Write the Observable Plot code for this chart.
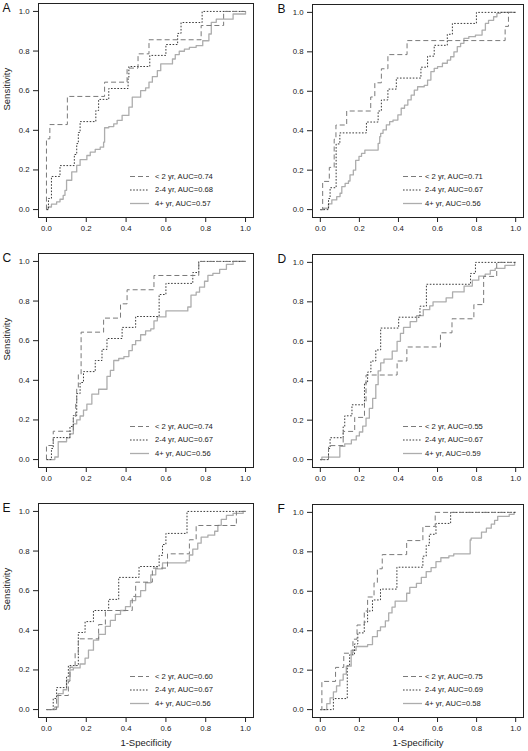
<!DOCTYPE html>
<html><head><meta charset="utf-8">
<script src="https://cdn.jsdelivr.net/npm/d3@7"></script>
<script src="https://cdn.jsdelivr.net/npm/@observablehq/plot@0.6"></script>
<style>
body{margin:0;background:#fff;}
#root{position:relative;width:528px;height:751px;font-family:"Liberation Sans",Arial,sans-serif;overflow:hidden;}
.panel{position:absolute;}
.panel svg{display:block;}
.overlay{position:absolute;left:0;top:0;pointer-events:none;}
</style></head><body><div id="root"></div>
<script>
// ---- labels ----
const panelLetters = ["A", "B", "C", "D", "E", "F"];
const groupLabels = ["< 2 yr", "2-4 yr", "4+ yr"];
const axisTicks = [0, 0.2, 0.4, 0.6, 0.8, 1.0];
const xTitle = "1-Specificity";
const yTitle = "Sensitivity";
const aucLt2 = [0.74, 0.71, 0.74, 0.55, 0.60, 0.75];
const auc2to4 = [0.68, 0.67, 0.67, 0.67, 0.67, 0.69];
const auc4plus = [0.57, 0.56, 0.56, 0.59, 0.56, 0.58];

// ---- ROC curves (1-specificity, sensitivity) ----
// Panel A
const A_lt2_fpr = [0, 0, 0.017, 0.105, 0.292, 0.405, 0.46, 0.515, 0.777, 0.89, 1];
const A_lt2_tpr = [0, 0.357, 0.429, 0.571, 0.643, 0.714, 0.786, 0.857, 0.929, 1, 1];
const A_mid_fpr = [0, 0.01, 0.025, 0.068, 0.14, 0.152, 0.16, 0.169, 0.248, 0.262, 0.313, 0.41, 0.414, 0.519, 0.6, 0.659, 0.676, 0.782, 1];
const A_mid_tpr = [0, 0.056, 0.167, 0.222, 0.278, 0.333, 0.389, 0.444, 0.5, 0.556, 0.611, 0.667, 0.722, 0.778, 0.833, 0.889, 0.944, 1, 1];
const A_old_fpr = [0, 0.008, 0.025, 0.051, 0.068, 0.084, 0.093, 0.101, 0.127, 0.152, 0.169, 0.203, 0.22, 0.245, 0.27, 0.287, 0.292, 0.313, 0.338, 0.355, 0.38, 0.414, 0.431, 0.473, 0.498, 0.515, 0.532, 0.557, 0.574, 0.633, 0.647, 0.667, 0.693, 0.718, 0.752, 0.785, 0.816, 0.828, 0.853, 0.9375, 1];
const A_old_tpr = [0, 0.013, 0.027, 0.039, 0.052, 0.072, 0.097, 0.148, 0.19, 0.223, 0.252, 0.273, 0.29, 0.304, 0.315, 0.34, 0.413, 0.419, 0.433, 0.45, 0.475, 0.517, 0.567, 0.6, 0.614, 0.643, 0.671, 0.701, 0.735, 0.76, 0.782, 0.799, 0.81, 0.819, 0.827, 0.852, 0.886, 0.945, 0.961, 0.987, 1];
// Panel B
const B_lt2_fpr = [0, 0.012, 0.046, 0.071, 0.08, 0.135, 0.258, 0.279, 0.3125, 0.346, 0.444, 0.946, 0.963, 1];
const B_lt2_tpr = [0, 0.143, 0.214, 0.357, 0.429, 0.5, 0.571, 0.643, 0.714, 0.786, 0.857, 0.929, 1, 1];
const B_mid_fpr = [0, 0.042, 0.05, 0.081, 0.1, 0.236, 0.296, 0.3125, 0.346, 0.389, 0.515, 0.549, 0.583, 0.65, 0.676, 0.799, 1];
const B_mid_tpr = [0, 0.056, 0.111, 0.333, 0.389, 0.444, 0.5, 0.556, 0.611, 0.667, 0.722, 0.778, 0.833, 0.889, 0.944, 1, 1];
const B_old_fpr = [0, 0.017, 0.042, 0.059, 0.084, 0.101, 0.11, 0.127, 0.144, 0.152, 0.169, 0.181, 0.198, 0.211, 0.228, 0.296, 0.304, 0.309, 0.321, 0.338, 0.355, 0.372, 0.397, 0.414, 0.431, 0.448, 0.465, 0.481, 0.498, 0.532, 0.549, 0.566, 0.583, 0.6, 0.625, 0.65, 0.667, 0.684, 0.701, 0.718, 0.735, 0.76, 0.794, 0.828, 0.845, 0.861, 0.887, 0.904, 0.921, 1];
const B_old_tpr = [0, 0.007, 0.029, 0.049, 0.066, 0.083, 0.117, 0.133, 0.145, 0.176, 0.2, 0.25, 0.27, 0.285, 0.302, 0.336, 0.37, 0.387, 0.404, 0.43, 0.446, 0.454, 0.48, 0.514, 0.53, 0.556, 0.58, 0.606, 0.623, 0.63, 0.657, 0.7, 0.716, 0.725, 0.742, 0.758, 0.775, 0.8, 0.826, 0.843, 0.868, 0.877, 0.885, 0.91, 0.944, 0.96, 0.978, 0.995, 1, 1];
// Panel C
const C_lt2_fpr = [0, 0, 0.034, 0.135, 0.147, 0.152, 0.16, 0.174, 0.287, 0.372, 0.405, 0.54, 0.765, 1];
const C_lt2_tpr = [0, 0.071, 0.143, 0.214, 0.286, 0.357, 0.429, 0.643, 0.714, 0.786, 0.857, 0.929, 1, 1];
const C_mid_fpr = [0, 0.025, 0.034, 0.118, 0.135, 0.152, 0.169, 0.186, 0.245, 0.279, 0.304, 0.38, 0.448, 0.566, 0.6, 0.735, 0.765, 1];
const C_mid_tpr = [0, 0.056, 0.111, 0.167, 0.222, 0.333, 0.389, 0.444, 0.5, 0.556, 0.611, 0.667, 0.722, 0.833, 0.889, 0.944, 1, 1];
const C_old_fpr = [0, 0.042, 0.059, 0.101, 0.118, 0.135, 0.152, 0.169, 0.186, 0.203, 0.228, 0.262, 0.304, 0.321, 0.338, 0.363, 0.389, 0.414, 0.431, 0.448, 0.473, 0.498, 0.524, 0.54, 0.557, 0.6, 0.71, 0.726, 0.752, 0.769, 0.794, 0.811, 0.836, 0.87, 0.904, 0.9375, 1];
const C_old_tpr = [0, 0.013, 0.09, 0.11, 0.13, 0.18, 0.2, 0.22, 0.25, 0.28, 0.33, 0.355, 0.42, 0.45, 0.5, 0.51, 0.52, 0.55, 0.58, 0.6, 0.63, 0.65, 0.66, 0.7, 0.72, 0.75, 0.77, 0.83, 0.845, 0.87, 0.9, 0.93, 0.94, 0.96, 0.985, 1, 1];
// Panel D
const D_lt2_fpr = [0, 0.042, 0.117, 0.176, 0.226, 0.234, 0.393, 0.443, 0.615, 0.674, 0.786, 0.836, 0.903, 1];
const D_lt2_tpr = [0, 0.071, 0.143, 0.214, 0.286, 0.429, 0.5, 0.571, 0.643, 0.714, 0.786, 0.929, 1, 1];
const D_mid_fpr = [0, 0.042, 0.05, 0.117, 0.125, 0.162, 0.226, 0.242, 0.259, 0.284, 0.309, 0.401, 0.51, 0.543, 0.769, 0.794, 1];
const D_mid_tpr = [0, 0.056, 0.111, 0.167, 0.222, 0.278, 0.389, 0.444, 0.5, 0.556, 0.667, 0.722, 0.778, 0.889, 0.944, 1, 1];
const D_old_fpr = [0, 0.008, 0.1, 0.125, 0.159, 0.184, 0.2, 0.217, 0.234, 0.251, 0.268, 0.284, 0.296, 0.309, 0.326, 0.368, 0.393, 0.41, 0.426, 0.46, 0.493, 0.527, 0.56, 0.577, 0.644, 0.677, 0.736, 0.778, 0.811, 0.844, 0.87, 0.895, 0.945, 0.995, 1];
const D_old_tpr = [0, 0.013, 0.067, 0.08, 0.1, 0.12, 0.14, 0.17, 0.21, 0.26, 0.31, 0.38, 0.45, 0.49, 0.51, 0.55, 0.6, 0.64, 0.67, 0.7, 0.73, 0.76, 0.78, 0.8, 0.82, 0.85, 0.88, 0.91, 0.93, 0.94, 0.96, 0.97, 0.985, 1, 1];
// Panel E
const E_lt2_fpr = [0, 0.051, 0.11, 0.118, 0.144, 0.16, 0.262, 0.296, 0.431, 0.448, 0.532, 0.608, 0.718, 0.752, 0.954, 1];
const E_lt2_tpr = [0, 0.071, 0.143, 0.214, 0.286, 0.357, 0.429, 0.5, 0.571, 0.643, 0.714, 0.786, 0.857, 0.929, 1, 1];
const E_mid_fpr = [0, 0.034, 0.051, 0.101, 0.11, 0.16, 0.194, 0.236, 0.3125, 0.363, 0.465, 0.566, 0.583, 0.6, 0.706, 1];
const E_mid_tpr = [0, 0.056, 0.111, 0.167, 0.222, 0.389, 0.444, 0.5, 0.556, 0.667, 0.722, 0.778, 0.833, 0.889, 1, 1];
const E_old_fpr = [0, 0.042, 0.059, 0.084, 0.101, 0.118, 0.135, 0.169, 0.194, 0.211, 0.236, 0.262, 0.296, 0.321, 0.346, 0.372, 0.397, 0.422, 0.448, 0.473, 0.498, 0.524, 0.549, 0.583, 0.701, 0.718, 0.735, 0.76, 0.777, 0.811, 0.845, 0.861, 0.878, 0.904, 0.9375, 0.988, 1];
const E_old_tpr = [0, 0.013, 0.08, 0.1, 0.15, 0.2, 0.21, 0.23, 0.26, 0.3, 0.35, 0.38, 0.42, 0.45, 0.48, 0.5, 0.52, 0.55, 0.57, 0.6, 0.64, 0.68, 0.71, 0.74, 0.75, 0.78, 0.81, 0.84, 0.87, 0.88, 0.9, 0.93, 0.96, 0.98, 0.99, 1, 1];
// Panel F
const F_lt2_fpr = [0, 0.008, 0.078, 0.12, 0.167, 0.188, 0.225, 0.242, 0.275, 0.292, 0.317, 0.442, 0.525, 0.588, 1];
const F_lt2_tpr = [0, 0.143, 0.214, 0.286, 0.357, 0.429, 0.5, 0.571, 0.643, 0.714, 0.786, 0.857, 0.929, 1, 1];
const F_mid_fpr = [0, 0.067, 0.138, 0.15, 0.175, 0.192, 0.225, 0.242, 0.267, 0.308, 0.392, 0.525, 0.542, 0.558, 0.592, 0.667, 1];
const F_mid_tpr = [0, 0.056, 0.222, 0.278, 0.333, 0.389, 0.444, 0.5, 0.556, 0.611, 0.722, 0.778, 0.833, 0.889, 0.944, 1, 1];
const F_old_fpr = [0, 0.033, 0.05, 0.067, 0.083, 0.1, 0.117, 0.133, 0.158, 0.183, 0.242, 0.267, 0.292, 0.308, 0.333, 0.35, 0.367, 0.383, 0.442, 0.458, 0.492, 0.517, 0.542, 0.567, 0.592, 0.617, 0.658, 0.683, 0.767, 0.772, 0.825, 0.85, 0.875, 0.892, 0.908, 0.967, 0.992, 1];
const F_old_tpr = [0, 0.03, 0.06, 0.09, 0.12, 0.15, 0.18, 0.22, 0.3, 0.32, 0.33, 0.37, 0.4, 0.42, 0.45, 0.49, 0.52, 0.55, 0.59, 0.62, 0.64, 0.67, 0.7, 0.72, 0.75, 0.77, 0.78, 0.79, 0.86, 0.87, 0.9, 0.92, 0.94, 0.96, 0.98, 0.99, 1, 1];

// ---- assemble ----
const curves = [
  [[A_lt2_fpr, A_lt2_tpr], [A_mid_fpr, A_mid_tpr], [A_old_fpr, A_old_tpr]],
  [[B_lt2_fpr, B_lt2_tpr], [B_mid_fpr, B_mid_tpr], [B_old_fpr, B_old_tpr]],
  [[C_lt2_fpr, C_lt2_tpr], [C_mid_fpr, C_mid_tpr], [C_old_fpr, C_old_tpr]],
  [[D_lt2_fpr, D_lt2_tpr], [D_mid_fpr, D_mid_tpr], [D_old_fpr, D_old_tpr]],
  [[E_lt2_fpr, E_lt2_tpr], [E_mid_fpr, E_mid_tpr], [E_old_fpr, E_old_tpr]],
  [[F_lt2_fpr, F_lt2_tpr], [F_mid_fpr, F_mid_tpr], [F_old_fpr, F_old_tpr]]
];
const aucs = [aucLt2, auc2to4, auc4plus];

const styles = [
  {stroke: "#7a7a7a", dash: "5,3", width: 1},
  {stroke: "#3c3c3c", dash: "1.6,1.6", width: 1},
  {stroke: "#adadad", dash: null, width: 1.3}
];
const FONT = "Liberation Sans, Arial, Helvetica, sans-serif";
const fmt = d3.format(".1f");
const root = document.getElementById("root");

panelLetters.forEach((letter, p) => {
  const col = p % 2, row = Math.floor(p / 2);
  const left = col === 0, bottom = row === 2;
  const W = 264, H = bottom ? 251 : 250;
  const mL = left ? 38 : 48, mR = left ? 11 : 5, mT = left ? 3 : 4;
  const mB = H - 217;

  const marks = [];
  [2, 1, 0].forEach(g => {
    const [fpr, tpr] = curves[p][g];
    const rows = fpr.map((x, i) => ({x, y: tpr[i]}));
    const s = styles[g];
    marks.push(Plot.line(rows, {x: "x", y: "y", curve: "step-after", stroke: s.stroke,
      strokeWidth: s.width, strokeDasharray: s.dash || undefined, strokeLinecap: "butt"}));
  });
  marks.push(Plot.frame({stroke: "#222", strokeWidth: 1}));
  marks.push(Plot.axisX(axisTicks, {tickSize: 5, tickPadding: 3, tickFormat: fmt, label: null, fontSize: 7.8, stroke: "#222", fill: "#222"}));
  marks.push(Plot.axisY(axisTicks, {tickSize: 5, tickPadding: 4, tickFormat: fmt, label: null, fontSize: 7.8, stroke: "#222", fill: "#222"}));
  marks.push(Plot.text([letter], {frameAnchor: "top-left", text: d => d, dx: left ? -36 : -35, dy: left ? 4.5 : 5,
    textAnchor: "start", lineAnchor: "middle", fontSize: 12, fill: "#111"}));
  if (left) marks.push(Plot.text([yTitle], {frameAnchor: "left", text: d => d, rotate: -90, dx: -32,
    fontSize: 9.5, fill: "#222"}));
  if (bottom) marks.push(Plot.text([xTitle], {frameAnchor: "bottom", text: d => d, dy: 28.5,
    fontSize: 9.5, fill: "#222"}));

  const chart = Plot.plot({
    width: W, height: H,
    marginLeft: mL, marginRight: mR, marginTop: mT, marginBottom: mB,
    style: {fontFamily: FONT, fontSize: "7.8px", color: "#222", background: "transparent"},
    x: {domain: [-0.04, 1.04], axis: null},
    y: {domain: [-0.04, 1.04], axis: null},
    marks
  });

  const div = document.createElement("div");
  div.className = "panel";
  div.style.left = (col * 264) + "px";
  div.style.top = (row * 250) + "px";
  div.style.width = W + "px";
  div.style.height = H + "px";
  div.appendChild(chart);

  const lg = d3.create("svg").attr("class", "overlay").attr("width", W).attr("height", H)
    .style("font-family", FONT).style("font-size", "7.6px");
  const x0 = left ? 130 : 139, x1 = left ? 149 : 158, tx = left ? 155 : 161;
  const rowY = [176, 189.5, 203];
  groupLabels.forEach((lab, g) => {
    const s = styles[g];
    lg.append("line").attr("x1", x0).attr("x2", x1).attr("y1", rowY[g] + 0.5).attr("y2", rowY[g] + 0.5)
      .attr("stroke", s.stroke).attr("stroke-width", s.width).attr("stroke-dasharray", s.dash);
    lg.append("text").attr("x", tx).attr("y", rowY[g]).attr("dy", "0.35em").attr("fill", "#222")
      .text(`${lab}, AUC=${aucs[g][p].toFixed(2)}`);
  });
  div.appendChild(lg.node());
  root.appendChild(div);
});
</script>
</body></html>
